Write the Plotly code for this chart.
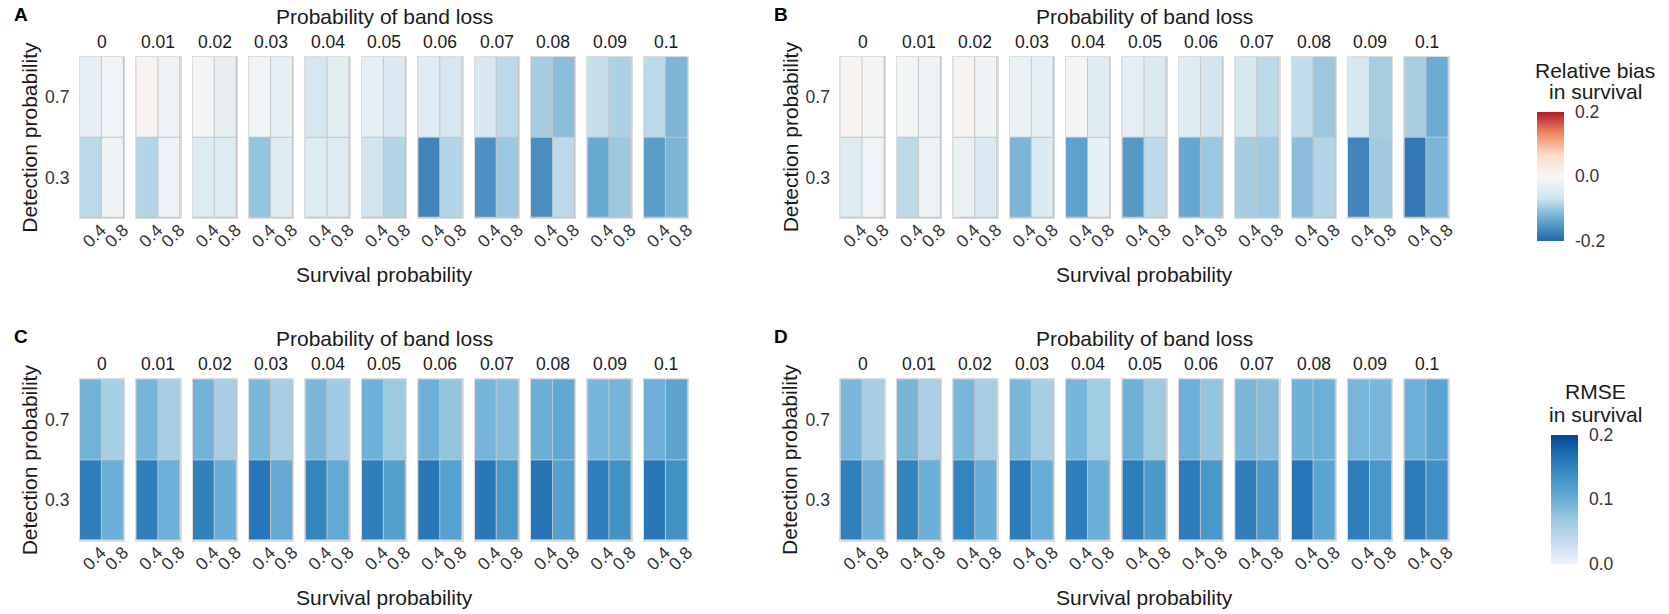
import plotly.graph_objects as go

# ---------------- data ----------------
band_loss = ['0', '0.01', '0.02', '0.03', '0.04', '0.05', '0.06', '0.07', '0.08', '0.09', '0.1']
survival = ['0.4', '0.8']
detection = ['0.3', '0.7']

# Panel A: relative bias in survival
A_p07_s04 = [-0.03, 0.01, -0.005, -0.012, -0.06, -0.03, -0.04, -0.055, -0.095, -0.075, -0.08]
A_p07_s08 = [-0.01, -0.02, -0.025, -0.03, -0.035, -0.05, -0.06, -0.08, -0.11, -0.09, -0.12]
A_p03_s04 = [-0.08, -0.085, -0.045, -0.105, -0.045, -0.065, -0.17, -0.157, -0.161, -0.133, -0.145]
A_p03_s08 = [-0.015, -0.02, -0.045, -0.04, -0.045, -0.085, -0.085, -0.1, -0.08, -0.1, -0.12]

# Panel B: relative bias in survival
B_p07_s04 = [0.01, -0.008, 0.01, -0.022, -0.005, -0.033, -0.04, -0.057, -0.077, -0.06, -0.093]
B_p07_s08 = [-0.005, -0.02, -0.016, -0.033, -0.04, -0.05, -0.065, -0.08, -0.1, -0.093, -0.13]
B_p03_s04 = [-0.045, -0.08, -0.022, -0.12, -0.14, -0.15, -0.135, -0.094, -0.11, -0.17, -0.182]
B_p03_s08 = [-0.012, -0.02, -0.05, -0.05, -0.03, -0.078, -0.1, -0.098, -0.085, -0.097, -0.12]

# Panel C: RMSE in survival
C_p07_s04 = [0.095, 0.093, 0.095, 0.09, 0.09, 0.098, 0.098, 0.093, 0.1, 0.092, 0.099]
C_p07_s08 = [0.058, 0.06, 0.058, 0.06, 0.064, 0.067, 0.073, 0.083, 0.107, 0.093, 0.111]
C_p03_s04 = [0.153, 0.153, 0.151, 0.161, 0.147, 0.153, 0.161, 0.16, 0.164, 0.154, 0.16]
C_p03_s08 = [0.1, 0.099, 0.102, 0.105, 0.106, 0.117, 0.116, 0.127, 0.118, 0.133, 0.134]

# Panel D: RMSE in survival
D_p07_s04 = [0.09, 0.093, 0.09, 0.09, 0.092, 0.099, 0.099, 0.091, 0.097, 0.091, 0.098]
D_p07_s08 = [0.06, 0.057, 0.06, 0.059, 0.063, 0.067, 0.073, 0.082, 0.099, 0.09, 0.113]
D_p03_s04 = [0.152, 0.148, 0.147, 0.156, 0.154, 0.155, 0.156, 0.153, 0.163, 0.154, 0.157]
D_p03_s08 = [0.096, 0.1, 0.102, 0.102, 0.1, 0.124, 0.127, 0.124, 0.113, 0.127, 0.135]

panels = [
    ('A', A_p03_s04, A_p03_s08, A_p07_s04, A_p07_s08, 'coloraxis'),
    ('B', B_p03_s04, B_p03_s08, B_p07_s04, B_p07_s08, 'coloraxis'),
    ('C', C_p03_s04, C_p03_s08, C_p07_s04, C_p07_s08, 'coloraxis2'),
    ('D', D_p03_s04, D_p03_s08, D_p07_s04, D_p07_s08, 'coloraxis2'),
]

# ---------------- layout geometry (pixels) ----------------
W, H = 1669, 614
FONT = 'Liberation Sans, Arial, sans-serif'
facet_x0 = 79.3
facet_step = 56.7
facet_w = 44.6
panel_dx = {'A': 0, 'B': 764.7, 'C': 0, 'D': 764.7}
panel_top = {'A': 56.7, 'B': 56.7, 'C': 379.3, 'D': 379.3}
facet_h = 161.2

def px(x):
    return x / W

def py(y):
    return 1 - y / H

rdbu = ['#2166AC', '#67A9CF', '#D1E5F0', '#F7F7F7', '#FDDBC7', '#EF8A62', '#B2182B']
blues = ['#EFF3FF', '#C6DBEF', '#9ECAE1', '#6BAED6', '#4292C6', '#2171B5', '#084594']

def scale(cols):
    n = len(cols) - 1
    return [[i / n, c] for i, c in enumerate(cols)]

fig = go.Figure()
layout = {}
annotations = []
n = 0
for name, p03s04, p03s08, p07s04, p07s08, cax in panels:
    dx = panel_dx[name]
    top = panel_top[name]
    for i, bl in enumerate(band_loss):
        n += 1
        xs = '' if n == 1 else str(n)
        z = [[p03s04[i], p03s08[i]], [p07s04[i], p07s08[i]]]
        fig.add_trace(go.Heatmap(
            x=survival, y=detection, z=z, coloraxis=cax,
            xgap=1, ygap=1,
            xaxis='x' + xs, yaxis='y' + xs,
            hovertemplate='Survival %{x}<br>Detection %{y}<br>%{z}<extra></extra>'))
        x0 = dx + facet_x0 + facet_step * i
        layout['xaxis' + xs] = dict(
            domain=[px(x0), px(x0 + facet_w)], anchor='y' + xs,
            type='category', showgrid=False, zeroline=False,
            showline=True, mirror=True, linecolor='#dcdcdc', linewidth=1,
            ticks='', tickangle=-45, ticklabelstandoff=-6, ticklabelshift=10,
            tickfont=dict(family=FONT, size=17.5, color='#333333'))
        layout['yaxis' + xs] = dict(
            domain=[py(top + facet_h), py(top)], anchor='x' + xs,
            type='category', showgrid=False, zeroline=False,
            showline=True, mirror=True, linecolor='#dcdcdc', linewidth=1,
            ticks='', showticklabels=(i == 0), ticklabelstandoff=6,
            tickfont=dict(family=FONT, size=17.5, color='#333333'))
        annotations.append(dict(
            text=bl, xref='x' + xs + ' domain', x=0.5, yref='paper', y=py(top - 15),
            xanchor='center', yanchor='middle', showarrow=False,
            font=dict(family=FONT, size=17.5, color='#1a1a1a')))
    cx = dx + (facet_x0 + facet_x0 + facet_step * 10 + facet_w) / 2
    annotations.append(dict(
        text='Probability of band loss', xref='paper', yref='paper',
        x=px(cx), y=py(top - 40.5), xanchor='center', yanchor='middle', showarrow=False,
        font=dict(family=FONT, size=21, color='#1a1a1a')))
    annotations.append(dict(
        text='Survival probability', xref='paper', yref='paper',
        x=px(cx), y=py(top + facet_h + 57), xanchor='center', yanchor='middle', showarrow=False,
        font=dict(family=FONT, size=21, color='#1a1a1a')))
    annotations.append(dict(
        text='Detection probability', xref='paper', yref='paper', textangle=-90,
        x=px(dx + 28.6), y=py(top + facet_h / 2), xanchor='center', yanchor='middle', showarrow=False,
        font=dict(family=FONT, size=21, color='#1a1a1a')))
    annotations.append(dict(
        text='<b>' + name + '</b>', xref='paper', yref='paper',
        x=px(dx + 20), y=py(top - 42.5), xanchor='center', yanchor='middle', showarrow=False,
        font=dict(family=FONT, size=19, color='#000000')))

# legend titles
for txt, y in [('Relative bias', 70.7), ('in survival', 91.7), ('RMSE', 391.7), ('in survival', 414.5)]:
    annotations.append(dict(
        text=txt, xref='paper', yref='paper', x=px(1603), y=py(y),
        xanchor='center', yanchor='middle', showarrow=False,
        font=dict(family=FONT, size=21, color='#1a1a1a')))

cb_common = dict(thickness=27, thicknessmode='pixels', lenmode='pixels', len=128.5,
                 xanchor='left', yanchor='middle', xpad=0, ypad=0, outlinewidth=0,
                 ticks='outside', ticklen=8, tickcolor='rgba(0,0,0,0)',
                 tickfont=dict(family=FONT, size=17.5, color='#333333'))

layout['coloraxis'] = dict(
    colorscale=scale(rdbu), cmin=-0.2, cmax=0.2,
    colorbar=dict(x=px(1544), y=py(176), tickvals=[-0.2, 0, 0.2],
                  ticktext=['-0.2', '0.0', '0.2'], **cb_common))
layout['coloraxis2'] = dict(
    colorscale=scale(blues), cmin=0, cmax=0.2,
    colorbar=dict(x=px(1558), y=py(499), tickvals=[0, 0.1, 0.2],
                  ticktext=['0.0', '0.1', '0.2'], **cb_common))

fig.update_layout(
    width=W, height=H,
    margin=dict(l=0, r=0, t=0, b=0),
    paper_bgcolor='white', plot_bgcolor='#c4c4c4',
    font=dict(family=FONT, color='#1a1a1a'),
    annotations=annotations,
    showlegend=False,
    **layout)

fig.write_html('out.html', config={'displayModeBar': False})
